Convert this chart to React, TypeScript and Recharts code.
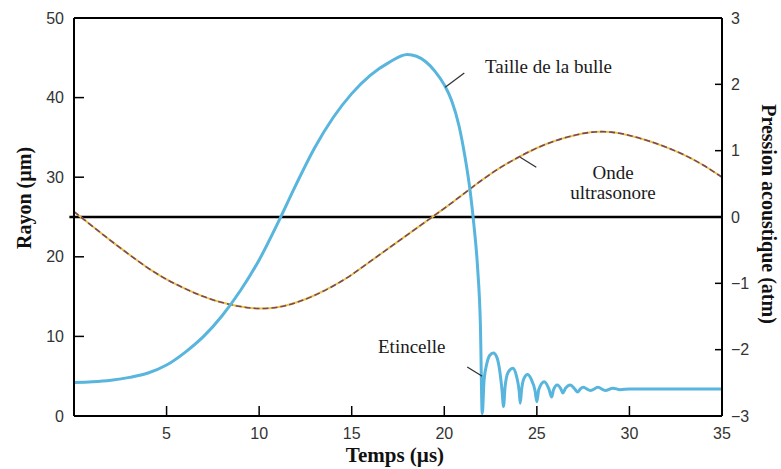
import { LineChart, Line, XAxis, YAxis, ReferenceLine } from 'recharts'

// Taille de la bulle (rayon, µm) vs temps (µs)
const bubbleTimes = [
  0, 1, 2, 3, 4, 5, 6, 7, 8, 9, 10, 11, 12, 13, 14, 15, 16, 17, 18, 18.5, 19, 19.5, 20, 20.4, 20.8, 21.1, 21.4, 21.6, 21.8, 21.95, 22.05,
  22.15, 22.3, 22.45, 22.65, 22.85, 23.0, 23.12, 23.2,
  23.28, 23.45, 23.7, 23.9, 24.05, 24.1,
  24.18, 24.3, 24.5, 24.7, 24.9, 25.0,
  25.1, 25.4, 25.65, 25.8,
  25.9, 26.1, 26.3, 26.4,
  26.55, 26.8, 27.05, 27.2,
  27.35, 27.5, 27.9, 28.3, 28.7, 29.1, 29.5, 30, 31, 32, 33, 34, 35,
]
const bubbleRadius = [
  4.2, 4.3, 4.5, 4.85, 5.4, 6.4, 8.0, 10.0, 12.6, 15.8, 19.6, 24.2, 29.1, 33.7, 37.5, 40.5, 42.8, 44.4, 45.4, 45.2, 44.5, 43.3, 41.6, 39.6, 36.4, 32.8, 28.2, 24.0, 18.6, 11.5, 0.3,
  4.5, 6.6, 7.6, 7.9, 7.3, 5.6, 3.2, 1.2,
  3.6, 5.5, 6.0, 5.0, 3.0, 1.6,
  3.4, 4.7, 5.2, 4.6, 3.2, 1.8,
  3.3, 4.3, 3.4, 2.4,
  3.3, 3.9, 3.4, 2.9,
  3.5, 3.9, 3.4, 3.0,
  3.4, 3.6, 3.2, 3.6, 3.2, 3.5, 3.3, 3.4, 3.4, 3.4, 3.4, 3.4, 3.4,
]

// Onde ultrasonore (pression acoustique, atm)
const waveTimes = [
  0, 1, 2, 3, 4, 5, 6, 7, 8, 9, 10, 11, 12, 13, 14, 15, 16, 17, 18, 19, 20, 21, 22, 23, 24, 25, 26, 27, 28, 29, 30, 31, 32, 33, 34, 35,
]
const wavePressure = [
  0.08, -0.14, -0.36, -0.57, -0.77, -0.94, -1.08, -1.2, -1.29, -1.35, -1.38, -1.36, -1.29, -1.18, -1.04, -0.87, -0.67, -0.47,
  -0.27, -0.07, 0.13, 0.34, 0.55, 0.74, 0.9, 1.04, 1.15, 1.23, 1.28, 1.28, 1.23, 1.15, 1.05, 0.93, 0.78, 0.6,
]

const timeTicks = [5, 10, 15, 20, 25, 30, 35]
const radiusTicks = [0, 10, 20, 30, 40, 50]
const pressureTicks = [-3, -2, -1, 0, 1, 2, 3]

const bubbleData = bubbleTimes.map((t, i) => ({ t, r: bubbleRadius[i] }))
const waveData = waveTimes.map((t, i) => ({ t, p: wavePressure[i] }))

const tickStyle = { fill: '#333', fontSize: 16, fontFamily: 'Liberation Sans, Arial, sans-serif' }
const serif = 'Liberation Serif, Times New Roman, serif'

function formatPressure(v: number): string {
  return v < 0 ? `\u2212${Math.abs(v)}` : String(v)
}

export default function App() {
  return (
    <div style={{ position: 'absolute', left: 0, top: 0, width: 781, height: 469, background: '#fff' }}>
      <LineChart width={781} height={469} margin={{ top: 18, right: 19, left: 30, bottom: 13 }}>
        <XAxis
          xAxisId="t"
          type="number"
          dataKey="t"
          domain={[0, 35]}
          ticks={timeTicks}
          allowDuplicatedCategory={false}
          height={40}
          tick={tickStyle}
          tickSize={-10}
          tickMargin={22}
          axisLine={{ stroke: '#000', strokeWidth: 2 }}
          tickLine={{ stroke: '#000', strokeWidth: 1.5 }}
        />
        <YAxis
          yAxisId="r"
          orientation="left"
          domain={[0, 50]}
          ticks={radiusTicks}
          width={44}
          tick={tickStyle}
          tickSize={-10}
          tickMargin={20}
          axisLine={{ stroke: '#000', strokeWidth: 2 }}
          tickLine={{ stroke: '#000', strokeWidth: 1.5 }}
        />
        <YAxis
          yAxisId="p"
          orientation="right"
          domain={[-3, 3]}
          ticks={pressureTicks}
          tickFormatter={formatPressure}
          width={40}
          tick={tickStyle}
          tickSize={-7}
          tickMargin={16}
          axisLine={{ stroke: '#000', strokeWidth: 2 }}
          tickLine={{ stroke: '#000', strokeWidth: 1.5 }}
        />
        <ReferenceLine xAxisId="t" yAxisId="r" y={50} stroke="#000" strokeWidth={2} />
        <ReferenceLine
          xAxisId="t"
          yAxisId="p"
          segment={[{ x: -0.25, y: 0 }, { x: 35, y: 0 }]}
          ifOverflow="visible"
          stroke="#000"
          strokeWidth={2.5}
        />
        <Line
          xAxisId="t"
          yAxisId="p"
          data={waveData}
          dataKey="p"
          type="natural"
          stroke="#e9c545"
          strokeWidth={2}
          dot={false}
          isAnimationActive={false}
        />
        <Line
          xAxisId="t"
          yAxisId="p"
          data={waveData}
          dataKey="p"
          type="natural"
          stroke="#7a4660"
          strokeWidth={1.6}
          strokeDasharray="6 3"
          dot={false}
          isAnimationActive={false}
        />
        <Line
          xAxisId="t"
          yAxisId="r"
          data={bubbleData}
          dataKey="r"
          type="monotone"
          stroke="#58b5dd"
          strokeWidth={3}
          dot={false}
          isAnimationActive={false}
        />
        {/* traits des annotations */}
        <ReferenceLine xAxisId="t" yAxisId="r" segment={[{ x: 20.05, y: 41.3 }, { x: 21.08, y: 43.1 }]} stroke="#333" strokeWidth={1.3} />
        <ReferenceLine xAxisId="t" yAxisId="p" segment={[{ x: 24.1, y: 0.9 }, { x: 24.97, y: 0.75 }]} stroke="#333" strokeWidth={1.3} />
        <ReferenceLine xAxisId="t" yAxisId="r" segment={[{ x: 21.24, y: 6.16 }, { x: 22.05, y: 5.0 }]} stroke="#333" strokeWidth={1.3} />
      </LineChart>
      <svg
        width={781}
        height={469}
        style={{ position: 'absolute', left: 0, top: 0, pointerEvents: 'none' }}
      >
        <g fontFamily={serif} fontSize={19} fill="#1a1a1a">
          <text x={485} y={73}>Taille de la bulle</text>
          <text x={613} y={179} textAnchor="middle">Onde</text>
          <text x={613} y={199} textAnchor="middle">ultrasonore</text>
          <text x={378} y={353}>Etincelle</text>
        </g>
        <g fontFamily={serif} fontWeight="bold" fill="#111">
          <text x={24} y={198} fontSize={20} textAnchor="middle" dominantBaseline="central" transform="rotate(-90 24 198)">
            Rayon (µm)
          </text>
          <text x={769} y={214} fontSize={20} textAnchor="middle" dominantBaseline="central" transform="rotate(90 769 214)">
            Pression acoustique (atm)
          </text>
          <text x={395} y={462} fontSize={21} textAnchor="middle">Temps (µs)</text>
        </g>
      </svg>
    </div>
  )
}
